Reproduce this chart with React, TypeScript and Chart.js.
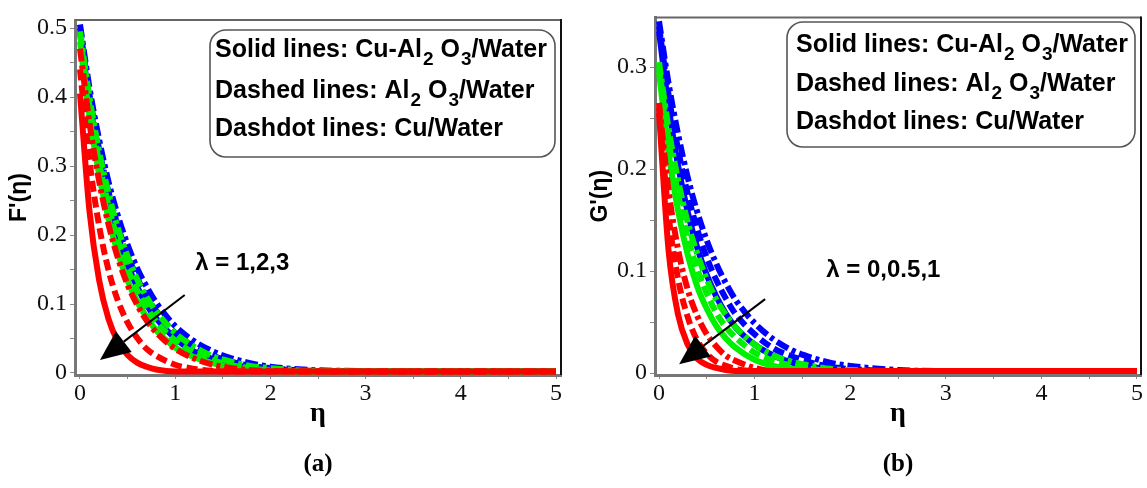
import React, { useEffect, useRef } from 'react';
import { Chart, registerables } from 'chart.js';

Chart.register(...registerables);

// ---------- data ----------
const ETA = [0, 0.1, 0.2, 0.3, 0.4, 0.5, 0.6, 0.7, 0.8, 1.0, 1.2, 1.4, 1.6, 1.8, 2.0, 2.5, 3, 3.5, 4, 4.5, 5];

// Panel (a): F'(eta)
const F_BLUE_DASHDOT = [0.505, 0.413, 0.339, 0.277, 0.227, 0.186, 0.152, 0.125, 0.102, 0.068, 0.046, 0.031, 0.021, 0.014, 0.009, 0.004, 0.003, 0.003, 0.003, 0.003, 0.003];
const F_BLUE_DASHED = [0.500, 0.403, 0.325, 0.262, 0.212, 0.171, 0.138, 0.111, 0.090, 0.058, 0.038, 0.025, 0.016, 0.010, 0.007, 0.003, 0.003, 0.003, 0.003, 0.003, 0.003];
const F_BLUE_SOLID = [0.495, 0.393, 0.312, 0.248, 0.197, 0.157, 0.125, 0.099, 0.079, 0.050, 0.031, 0.020, 0.012, 0.008, 0.005, 0.003, 0.002, 0.002, 0.002, 0.002, 0.002];
const F_GREEN_DASHDOT = [0.495, 0.399, 0.322, 0.260, 0.209, 0.169, 0.136, 0.110, 0.089, 0.058, 0.038, 0.024, 0.016, 0.010, 0.007, 0.003, 0.003, 0.003, 0.003, 0.003, 0.003];
const F_GREEN_DASHED = [0.490, 0.387, 0.306, 0.242, 0.191, 0.151, 0.120, 0.095, 0.075, 0.047, 0.029, 0.018, 0.011, 0.007, 0.004, 0.002, 0.002, 0.002, 0.002, 0.002, 0.002];
const F_GREEN_SOLID = [0.480, 0.372, 0.288, 0.223, 0.173, 0.134, 0.104, 0.081, 0.062, 0.037, 0.023, 0.014, 0.008, 0.005, 0.003, 0.002, 0.002, 0.002, 0.002, 0.002, 0.002];
const F_RED_DASHDOT = [0.470, 0.362, 0.279, 0.215, 0.166, 0.128, 0.099, 0.076, 0.059, 0.035, 0.021, 0.012, 0.007, 0.004, 0.003, 0.002, 0.002, 0.002, 0.002, 0.002, 0.002];
const F_RED_DASHED = [0.440, 0.307, 0.214, 0.149, 0.104, 0.073, 0.051, 0.035, 0.025, 0.012, 0.006, 0.003, 0.002, 0.002, 0.002, 0.002, 0.002, 0.002, 0.002, 0.002, 0.002];
const F_RED_SOLID = [0.405, 0.234, 0.135, 0.078, 0.045, 0.026, 0.015, 0.009, 0.005, 0.002, 0.002, 0.002, 0.002, 0.002, 0.002, 0.002, 0.002, 0.002, 0.002, 0.002, 0.002];

// Panel (b): G'(eta)
const G_BLUE_DASHDOT = [0.345, 0.284, 0.234, 0.192, 0.158, 0.130, 0.107, 0.088, 0.072, 0.049, 0.033, 0.022, 0.015, 0.010, 0.007, 0.003, 0.002, 0.002, 0.002, 0.002, 0.002];
const G_BLUE_DASHED = [0.340, 0.273, 0.219, 0.176, 0.141, 0.113, 0.091, 0.073, 0.058, 0.038, 0.024, 0.016, 0.010, 0.006, 0.004, 0.002, 0.002, 0.002, 0.002, 0.002, 0.002];
const G_BLUE_SOLID = [0.335, 0.261, 0.203, 0.158, 0.123, 0.096, 0.075, 0.058, 0.045, 0.028, 0.017, 0.010, 0.006, 0.004, 0.002, 0.002, 0.002, 0.002, 0.002, 0.002, 0.002];
const G_GREEN_DASHDOT = [0.305, 0.240, 0.189, 0.148, 0.117, 0.092, 0.072, 0.057, 0.045, 0.028, 0.017, 0.011, 0.007, 0.004, 0.003, 0.002, 0.002, 0.002, 0.002, 0.002, 0.002];
const G_GREEN_DASHED = [0.300, 0.229, 0.175, 0.133, 0.102, 0.078, 0.059, 0.045, 0.035, 0.020, 0.012, 0.007, 0.004, 0.002, 0.002, 0.002, 0.002, 0.002, 0.002, 0.002, 0.002];
const G_GREEN_SOLID = [0.295, 0.216, 0.159, 0.116, 0.085, 0.063, 0.046, 0.034, 0.025, 0.013, 0.007, 0.004, 0.002, 0.002, 0.002, 0.002, 0.002, 0.002, 0.002, 0.002, 0.002];
const G_RED_DASHDOT = [0.265, 0.179, 0.121, 0.082, 0.056, 0.038, 0.026, 0.017, 0.012, 0.005, 0.002, 0.002, 0.002, 0.002, 0.002, 0.002, 0.002, 0.002, 0.002, 0.002, 0.002];
const G_RED_DASHED = [0.260, 0.155, 0.092, 0.055, 0.032, 0.019, 0.011, 0.007, 0.004, 0.002, 0.002, 0.002, 0.002, 0.002, 0.002, 0.002, 0.002, 0.002, 0.002, 0.002, 0.002];
const G_RED_SOLID = [0.255, 0.120, 0.057, 0.028, 0.014, 0.008, 0.005, 0.003, 0.002, 0.002, 0.002, 0.002, 0.002, 0.002, 0.002, 0.002, 0.002, 0.002, 0.002, 0.002, 0.002];

const X_TICKS = [0, 0.5, 1, 1.5, 2, 2.5, 3, 3.5, 4, 4.5, 5];
const F_TICKS = [0, 0.05, 0.1, 0.15, 0.2, 0.25, 0.3, 0.35, 0.4, 0.45, 0.5];
const G_TICKS = [0, 0.05, 0.1, 0.15, 0.2, 0.25, 0.3];

const LEGEND_ROWS = [
  [{ t: 'Solid lines: Cu-Al' }, { t: '2', sub: true }, { t: ' O' }, { t: '3', sub: true }, { t: '/Water' }],
  [{ t: 'Dashed lines: Al' }, { t: '2', sub: true }, { t: ' O' }, { t: '3', sub: true }, { t: '/Water' }],
  [{ t: 'Dashdot lines: Cu/Water' }],
];

const RED = '#ff0000';
const GREEN = '#00f000';
const BLUE = '#0000ff';
const SOLID: number[] = [];
const DASHED = [11, 5];
const DASHDOT = [13, 4, 4, 4];

const PANELS = [
  {
    left: 0, width: 573, padTop: 20, padRight: 12, yAxisWidth: 75,
    xMin: -0.0525, xMax: 5.0525, yMin: -0.0029, yMax: 0.5116, yTicks: F_TICKS,
    yTitle: "F'(η)", yTitlePad: 6, caption: '(a)',
    lambdaText: 'λ = 1,2,3', lambdaAt: [1.21, 0.159],
    arrowFrom: [1.10, 0.113], arrowTo: [0.21, 0.019],
    box: { x: 210, y: 30, w: 345, h: 127 }, textX: 215, rowsY: [50, 91, 129],
    series: [
      { v: F_RED_SOLID, c: RED, d: SOLID },
      { v: F_RED_DASHED, c: RED, d: DASHED },
      { v: F_RED_DASHDOT, c: RED, d: DASHDOT },
      { v: F_GREEN_SOLID, c: GREEN, d: SOLID },
      { v: F_GREEN_DASHED, c: GREEN, d: DASHED },
      { v: F_GREEN_DASHDOT, c: GREEN, d: DASHDOT },
      { v: F_BLUE_SOLID, c: BLUE, d: SOLID },
      { v: F_BLUE_DASHED, c: BLUE, d: DASHED },
      { v: F_BLUE_DASHDOT, c: BLUE, d: DASHDOT },
    ],
  },
  {
    left: 573, width: 574, padTop: 12, padRight: 6, yAxisWidth: 82,
    xMin: -0.042, xMax: 5.042, yMin: -0.0019, yMax: 0.3488, yTicks: G_TICKS,
    yTitle: "G'(η)", yTitlePad: 14, caption: '(b)',
    lambdaText: 'λ = 0,0.5,1', lambdaAt: [1.75, 0.101],
    arrowFrom: [1.11, 0.0725], arrowTo: [0.21, 0.0087],
    box: { x: 787 - 573, y: 22, w: 348, h: 125 }, textX: 796 - 573, rowsY: [45, 84, 122],
    series: [
      { v: G_RED_SOLID, c: RED, d: SOLID },
      { v: G_RED_DASHED, c: RED, d: DASHED },
      { v: G_RED_DASHDOT, c: RED, d: DASHDOT },
      { v: G_GREEN_SOLID, c: GREEN, d: SOLID },
      { v: G_GREEN_DASHED, c: GREEN, d: DASHED },
      { v: G_GREEN_DASHDOT, c: GREEN, d: DASHDOT },
      { v: G_BLUE_SOLID, c: BLUE, d: SOLID },
      { v: G_BLUE_DASHED, c: BLUE, d: DASHED },
      { v: G_BLUE_DASHDOT, c: BLUE, d: DASHDOT },
    ],
  },
];

const SANS = '"Liberation Sans", Arial, sans-serif';
const SERIF = '"Liberation Serif", "Times New Roman", serif';

function roundRect(ctx: CanvasRenderingContext2D, x: number, y: number, w: number, h: number, r: number) {
  ctx.beginPath();
  ctx.moveTo(x + r, y);
  ctx.lineTo(x + w - r, y);
  ctx.arcTo(x + w, y, x + w, y + r, r);
  ctx.lineTo(x + w, y + h - r);
  ctx.arcTo(x + w, y + h, x + w - r, y + h, r);
  ctx.lineTo(x + r, y + h);
  ctx.arcTo(x, y + h, x, y + h - r, r);
  ctx.lineTo(x, y + r);
  ctx.arcTo(x, y, x + r, y, r);
  ctx.closePath();
}

function annotPlugin(p: any) {
  return {
    id: 'annot',
    afterDraw(chart: any) {
      const { ctx, chartArea: ca } = chart;
      const xs = chart.scales.x;
      const ys = chart.scales.y;
      ctx.save();
      // frame top and right
      ctx.lineWidth = 2;
      ctx.strokeStyle = '#666';
      ctx.beginPath();
      ctx.moveTo(ca.left, ca.top);
      ctx.lineTo(ca.right, ca.top);
      ctx.stroke();
      ctx.strokeStyle = '#111';
      ctx.beginPath();
      ctx.moveTo(ca.right, ca.top - 1);
      ctx.lineTo(ca.right, ca.bottom);
      ctx.stroke();

      // legend box
      ctx.fillStyle = '#fff';
      ctx.strokeStyle = '#555';
      ctx.lineWidth = 1.6;
      roundRect(ctx, p.box.x, p.box.y, p.box.w, p.box.h, 16);
      ctx.fill();
      ctx.stroke();
      ctx.fillStyle = '#000';
      ctx.textBaseline = 'middle';
      ctx.textAlign = 'left';
      LEGEND_ROWS.forEach((row, i) => {
        let x = p.textX;
        const y = p.rowsY[i];
        row.forEach((seg: any) => {
          if (seg.sub) {
            ctx.font = `bold 19px ${SANS}`;
            ctx.fillText(seg.t, x + 1, y + 10);
          } else {
            ctx.font = `bold 25px ${SANS}`;
            ctx.fillText(seg.t, x, y);
          }
          x += ctx.measureText(seg.t).width + (seg.sub ? 1 : 0);
        });
      });

      // lambda text
      ctx.font = `bold 24px ${SANS}`;
      ctx.fillText(p.lambdaText, xs.getPixelForValue(p.lambdaAt[0]), ys.getPixelForValue(p.lambdaAt[1]));

      // arrow
      const x1 = xs.getPixelForValue(p.arrowFrom[0]);
      const y1 = ys.getPixelForValue(p.arrowFrom[1]);
      const x2 = xs.getPixelForValue(p.arrowTo[0]);
      const y2 = ys.getPixelForValue(p.arrowTo[1]);
      const ang = Math.atan2(y2 - y1, x2 - x1);
      const L = 30;
      const W = 13;
      const bx = x2 - L * Math.cos(ang);
      const by = y2 - L * Math.sin(ang);
      ctx.strokeStyle = '#000';
      ctx.lineWidth = 2;
      ctx.beginPath();
      ctx.moveTo(x1, y1);
      ctx.lineTo(bx, by);
      ctx.stroke();
      ctx.fillStyle = '#000';
      ctx.beginPath();
      ctx.moveTo(x2, y2);
      ctx.lineTo(bx + W * Math.sin(ang), by - W * Math.cos(ang));
      ctx.lineTo(bx - W * Math.sin(ang), by + W * Math.cos(ang));
      ctx.closePath();
      ctx.fill();

      // caption
      ctx.font = `bold 25px ${SERIF}`;
      ctx.textAlign = 'center';
      ctx.fillText(p.caption, (ca.left + ca.right) / 2, 465);
      ctx.restore();
    },
  };
}

function Panel({ p }: { p: any }) {
  const ref = useRef<HTMLCanvasElement>(null);
  useEffect(() => {
    if (!ref.current) return;
    const chart = new Chart(ref.current, {
      type: 'line',
      data: {
        datasets: p.series.map((s: any) => ({
          data: ETA.map((x, i) => ({ x, y: s.v[i] })),
          borderColor: s.c,
          borderWidth: 6,
          borderDash: s.d,
          borderCapStyle: 'butt',
          pointRadius: 0,
          fill: false,
          cubicInterpolationMode: 'monotone',
        })),
      },
      options: {
        animation: false,
        responsive: false,
        devicePixelRatio: 1,
        layout: { padding: { left: 0, top: p.padTop, right: p.padRight, bottom: 0 } },
        plugins: { legend: { display: false }, tooltip: { enabled: false } },
        scales: {
          x: {
            type: 'linear',
            min: p.xMin,
            max: p.xMax,
            afterFit: (s: any) => { s.height = 113; },
            afterBuildTicks: (s: any) => { s.ticks = X_TICKS.map((v) => ({ value: v })); },
            ticks: {
              autoSkip: false,
              maxRotation: 0,
              padding: 0,
              color: '#111',
              font: { family: SERIF, size: 24 },
              callback: (v: any) => (Math.abs(v - Math.round(v)) < 1e-6 ? String(Math.round(v)) : ''),
            },
            grid: { drawOnChartArea: false, tickLength: 4, color: '#888' },
            border: { color: '#777', width: 3 },
            title: {
              display: true,
              text: 'η',
              color: '#000',
              font: { family: SERIF, size: 28, weight: 'bold' },
              padding: { top: 0, bottom: 57 },
            },
          },
          y: {
            type: 'linear',
            min: p.yMin,
            max: p.yMax,
            afterFit: (s: any) => { s.width = p.yAxisWidth; },
            afterBuildTicks: (s: any) => { s.ticks = p.yTicks.map((v: number) => ({ value: v })); },
            ticks: {
              autoSkip: false,
              padding: 3,
              color: '#111',
              font: { family: SERIF, size: 24 },
              callback: (v: any) => {
                const t = Math.round(v * 10);
                return Math.abs(v * 10 - t) < 1e-6 ? String(t / 10) : '';
              },
            },
            grid: { drawOnChartArea: false, tickLength: 5, color: '#888' },
            border: { color: '#777', width: 3 },
            title: {
              display: true,
              text: p.yTitle,
              color: '#000',
              font: { family: SANS, size: 23, weight: 'bold' },
              padding: { top: p.yTitlePad, bottom: 0 },
            },
          },
        },
      },
      plugins: [annotPlugin(p)],
    } as any);
    return () => chart.destroy();
  }, [p]);
  return (
    <canvas
      ref={ref}
      width={p.width}
      height={488}
      style={{ position: 'absolute', left: p.left, top: 0, width: p.width, height: 488, display: 'block' }}
    />
  );
}

export default function App() {
  return (
    <div style={{ position: 'absolute', left: 0, top: 0, width: 1147, height: 488, background: '#fff', overflow: 'hidden' }}>
      {PANELS.map((p, i) => (
        <Panel key={i} p={p} />
      ))}
    </div>
  );
}
